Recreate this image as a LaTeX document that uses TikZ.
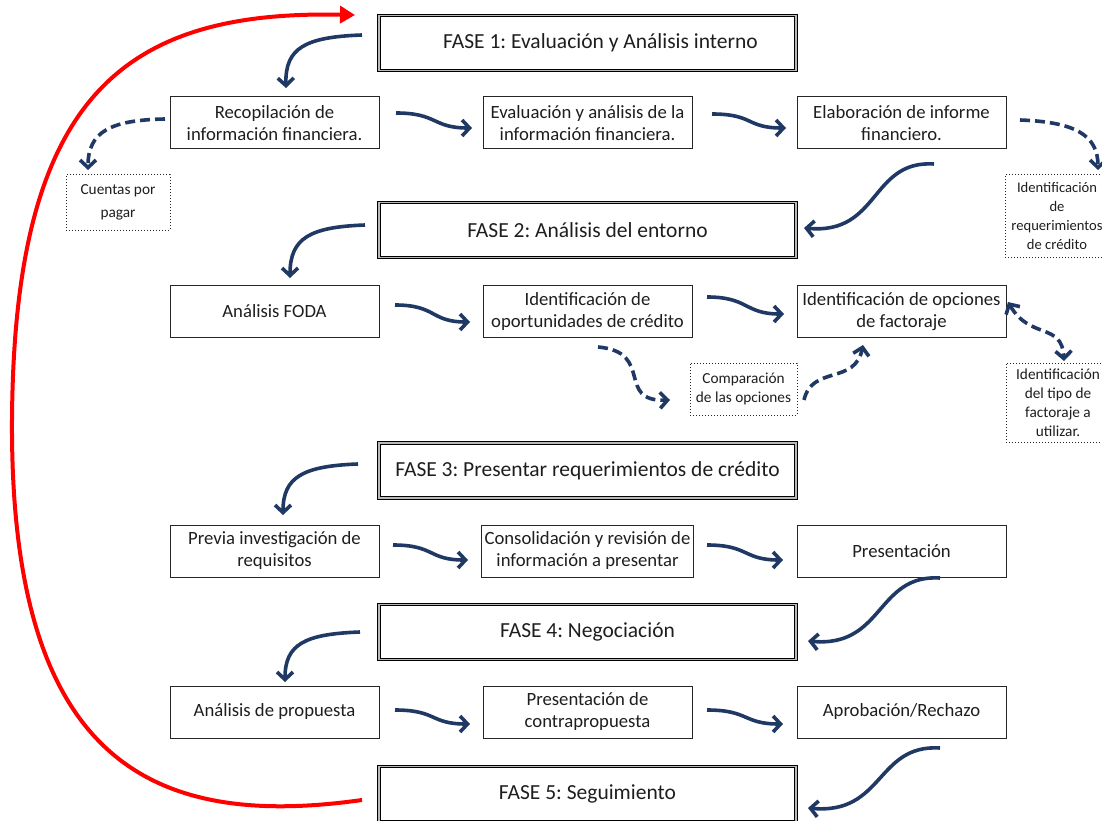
\documentclass[tikz,border=0pt]{standalone}
\usepackage{fontspec}
\setmainfont{Carlito}
\usetikzlibrary{arrows.meta}
\definecolor{navy}{RGB}{31,56,100}
\definecolor{txt}{RGB}{30,30,30}
\frenchspacing
\tikzset{
  phase/.style={draw=black, line width=0.8pt, double=gray!55, double distance=1.8pt,
    minimum width=417pt, minimum height=55pt, text=txt, font=\fontsize{21.5}{25}\selectfont},
  stepbox/.style={draw=black!85, line width=1pt, minimum width=209pt, minimum height=52pt,
    align=center, text=txt, font=\fontsize{18.7}{22}\selectfont},
  note/.style={draw=black!85, dotted, line width=1pt, align=center, text=txt,
    font=\fontsize{15.3}{19}\selectfont},
  flow/.style={navy, line width=3.6pt, -{Straight Barb[length=7.5pt,width=16pt]}},
  dflow/.style={flow, dash pattern=on 10pt off 5pt},
  back/.style={red, line width=4pt, -{Triangle[length=15pt,width=17pt]}}
}
\begin{document}
\begin{tikzpicture}[x=1pt,y=-1pt]
\useasboundingbox (0,0) rectangle (1102,821);
\clip (0,0) rectangle (1102,821);

% phases
\node[phase] (f1) at (587.5,43) {\hspace*{26pt}FASE 1: Evaluación y Análisis interno};
\node[phase] (f2) at (587.5,230) {FASE 2: Análisis del entorno};
\node[phase] (f3) at (587.5,470.5) {FASE 3: Presentar requerimientos de crédito};
\node[phase] (f4) at (587.5,632) {FASE 4: Negociación};
\node[phase] (f5) at (587.5,794) {FASE 5: Seguimiento};

% row 1
\node[stepbox] (a1) at (274.5,123) {Recopilación de\\información financiera.};
\node[stepbox] (a2) at (587.5,123) {Evaluación y análisis de la\\información financiera.};
\node[stepbox] (a3) at (901.5,123) {Elaboración de informe\\financiero.};
\node[note, minimum width=104pt, minimum height=55pt, font=\fontsize{15.3}{23}\selectfont] (n1) at (118,202.5) {Cuentas por\\pagar};
\node[note, minimum width=104pt, minimum height=82pt, font=\fontsize{14.6}{19}\selectfont] (n2) at (1057,216) {Identificación\\de\\requerimientos\\de crédito};

% row 2
\node[stepbox] (b1) at (274.5,311.5) {Análisis FODA};
\node[stepbox] (b2) at (587.5,311.5) {Identificación de\\oportunidades de crédito};
\node[stepbox] (b3) at (901.5,311.5) {Identificación de opciones\\de factoraje};
\node[note, minimum width=107pt, minimum height=52pt] (n3) at (743.5,389) {Comparación\\de las opciones};
\node[note, minimum width=104pt, minimum height=79pt] (n4) at (1058,402.5) {Identificación\\del tipo de\\factoraje a\\utilizar.};

% row 3
\node[stepbox] (c1) at (274.5,551) {Previa investigación de\\requisitos};
\node[stepbox] (c2) at (587.5,551) {Consolidación y revisión de\\información a presentar};
\node[stepbox] (c3) at (901.5,551) {Presentación};

% row 4
\node[stepbox] (d1) at (274.5,712) {Análisis de propuesta};
\node[stepbox] (d2) at (587.5,712) {Presentación de\\contrapropuesta};
\node[stepbox] (d3) at (901.5,712) {Aprobación/Rechazo};

% connector ends
\coordinate (f1o) at (362,35);   \coordinate (a1i) at (286,88);
\coordinate (a1o) at (396,113);  \coordinate (a2i) at (472,128);
\coordinate (a2o) at (712,114);  \coordinate (a3i) at (786,128);
\coordinate (a1d) at (165,119);  \coordinate (n1i) at (88,170);
\coordinate (a3d) at (1020,120); \coordinate (n2i) at (1098,170);
\coordinate (a3o) at (934,164);  \coordinate (f2i) at (804,228);
\coordinate (f2o) at (365,225);  \coordinate (b1i) at (290,278);
\coordinate (b1o) at (395,305);  \coordinate (b2i) at (470,322);
\coordinate (b2o) at (707,297);  \coordinate (b3i) at (784,314);
\coordinate (b2d) at (598,347);  \coordinate (n3i) at (670,400);
\coordinate (n3o) at (804,400);  \coordinate (b3d) at (863,345);
\coordinate (b3e) at (1008,302); \coordinate (n4i) at (1064,361);
\coordinate (f3o) at (358,464);  \coordinate (c1i) at (283,515);
\coordinate (c1o) at (393,545);  \coordinate (c2i) at (468,560);
\coordinate (c2o) at (707,545);  \coordinate (c3i) at (783,560);
\coordinate (c3o) at (940,578);  \coordinate (f4i) at (808,641);
\coordinate (f4o) at (360,632);  \coordinate (d1i) at (285,682);
\coordinate (d1o) at (395,710);  \coordinate (d2i) at (470,724);
\coordinate (d2o) at (707,710);  \coordinate (d3i) at (783,724);
\coordinate (d3o) at (940,748);  \coordinate (f5i) at (808,808);
\coordinate (f5o) at (362,800);  \coordinate (f1i) at (355,15);

% phase to first step
\draw[flow] (f1o) .. controls (305,37) and (285,48) .. (a1i);
\draw[flow] (f2o) .. controls (310,227) and (290,238) .. (b1i);
\draw[flow] (f3o) .. controls (303,466) and (283,477) .. (c1i);
\draw[flow] (f4o) .. controls (305,634) and (285,644) .. (d1i);

% step to step
\foreach \s/\t in {a1o/a2i, a2o/a3i, b1o/b2i, b2o/b3i, c1o/c2i, c2o/c3i, d1o/d2i, d2o/d3i}
  \draw[flow] (\s) .. controls ([xshift=42pt]\s) and ([xshift=-40pt]\t) .. (\t);

% last step to next phase
\draw[flow] (a3o) .. controls (870,160) and (880,235) .. (f2i);
\draw[flow] (c3o) .. controls (876,574) and (884,648) .. (f4i);
\draw[flow] (d3o) .. controls (876,744) and (884,815) .. (f5i);

% dashed side branches
\draw[dflow] (a1d) .. controls (110,120) and (88,132) .. (n1i);
\draw[dflow] (a3d) .. controls (1075,122) and (1098,135) .. (n2i);
\draw[dflow] (b2d) .. controls (655,352) and (615,402) .. (n3i);
\draw[dflow] (n3o) .. controls (812,365) and (855,385) .. (b3d);
\draw[dflow, {Straight Barb[length=7.5pt,width=16pt]}-{Straight Barb[length=7.5pt,width=16pt]}]
  (b3e) .. controls (1030,340) and (1062,322) .. (n4i);

% return loop
\draw[back] (f5o) .. controls (150,830) and (10,760) .. (12,420)
  .. controls (14,100) and (120,10) .. (f1i);
\end{tikzpicture}
\end{document}
